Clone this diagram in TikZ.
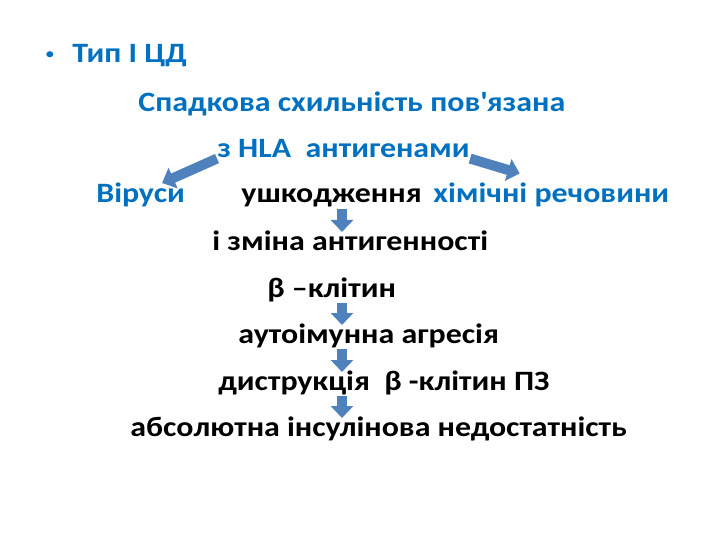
\documentclass[tikz,border=0pt]{standalone}
\usepackage{fontspec}
\setmainfont{Carlito}[FakeStretch=1.14]
\usepackage{xcolor}
\usetikzlibrary{positioning,arrows.meta}
\definecolor{txtblue}{HTML}{0070C0}
\definecolor{arrowblue}{HTML}{4F81BD}
\tikzset{every picture/.style={line width=0.75pt}}

\begin{document}
\begin{tikzpicture}[x=1pt,y=-1pt,
  txt/.style={anchor=base west, inner sep=0pt, font=\fontsize{28}{34}\selectfont\bfseries},
  blk/.style={line width=10pt, arrowblue, -{Triangle[width=22pt,length=12pt]}},
  down/.style={shorten <=6pt, shorten >=18pt}]
\useasboundingbox[fill=white] (0,0) rectangle (720,540);
\coordinate (spine) at (342,0);
\node[txt, txtblue, anchor=center, font=\fontsize{17}{18}\selectfont] (bul) at (50,56) {•};
\node[txt, txtblue] (type) at (72,63) {Тип І ЦД};
\node[txt, txtblue] (her) at (138,112) {Спадкова схильність пов\textquotesingle язана};
\node[txt, txtblue] (hla) at (217,158) {з HLA\ \ антигенами};
\node[txt, txtblue] (virus) at (96,203) {Віруси};
\node[txt] (damage) at (241,203) {ушкодження};
\node[txt, txtblue] (chem) at (433,203) {хімічні речовини};
\node[txt] (change) at (212,250) {і зміна антигенності};
\node[txt] (beta) at (267,297) {β –клітин};
\node[txt] (auto) at (238,343) {аутоімунна агресія};
\node[txt] (destr) at (218,390) {диструкція\ \ β -клітин ПЗ};
\node[txt] (abs) at (130,436) {абсолютна інсулінова недостатність};
\path[blk] (hla.south west) edge (virus.30);
\path[blk] (hla.south east) edge[shorten >=33pt] (chem.north);
\path[blk, down] (damage.base -| spine) edge (change.base -| spine);
\path[blk, down] (beta.base -| spine) edge (auto.base -| spine);
\path[blk, down] (auto.base -| spine) edge (destr.base -| spine);
\path[blk, down] (destr.base -| spine) edge (abs.base -| spine);
\end{tikzpicture}
\end{document}
